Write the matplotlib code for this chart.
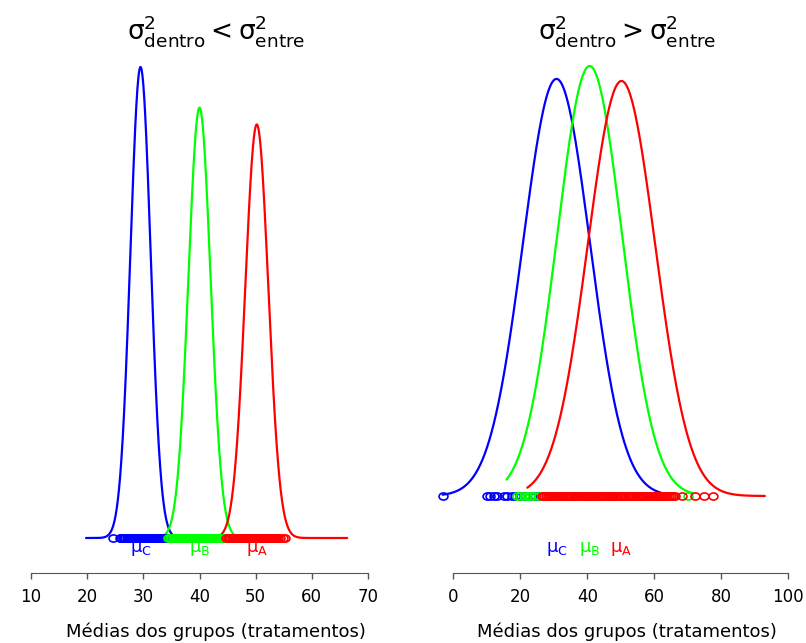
"""Two panels: rug of group means with normal curves, small vs large within-group variance."""
import matplotlib
matplotlib.use("Agg")
import matplotlib.pyplot as plt
import numpy as np
from matplotlib.markers import MarkerStyle
from matplotlib.path import Path
from matplotlib.transforms import Affine2D

plt.rcParams["font.family"] = ["DejaVu Sans"]
plt.rcParams["mathtext.default"] = "regular"

# groups in drawing order
group_labels = ["C", "B", "A"]
group_colors = ["#0000ff", "#00ff00", "#ff0000"]

# left panel: within variance < between variance
left_mean = [29.5, 40.0, 50.2]
left_sd = [1.8, 1.97, 2.05]
left_from = [19.8, 33.5, 43.5]
left_to = [36.0, 46.5, 66.3]
left_pts_c = [24.6, 25.8, 26.1, 26.3, 26.6, 26.8, 27.1, 27.2, 27.5, 27.7, 27.8, 28.1,
              28.2, 28.4, 28.7, 28.8, 29.0, 29.3, 29.4, 29.6, 29.9, 30.0, 30.2, 30.5,
              30.6, 30.8, 31.1, 31.2, 31.5, 31.6, 31.8, 32.1, 32.3, 32.4, 32.7, 32.9,
              33.1, 33.3, 33.6, 33.9, 34.2]
left_pts_b = [34.4, 34.7, 34.9, 35.2, 35.4, 35.6, 35.9, 36.1, 36.3, 36.5, 36.8, 37.0,
              37.2, 37.4, 37.7, 37.9, 38.1, 38.3, 38.6, 38.8, 39.0, 39.2, 39.5, 39.7,
              39.9, 40.1, 40.4, 40.6, 40.8, 41.0, 41.3, 41.5, 41.7, 41.9, 42.2, 42.4,
              42.6, 42.8, 43.1, 43.3, 43.5, 43.8, 44.0, 44.3, 44.6]
left_pts_a = [44.8, 45.1, 45.3, 45.5, 45.8, 46.0, 46.2, 46.4, 46.7, 46.9, 47.1, 47.3,
              47.6, 47.8, 48.0, 48.2, 48.5, 48.7, 48.9, 49.1, 49.4, 49.6, 49.8, 50.0,
              50.3, 50.5, 50.7, 50.9, 51.2, 51.4, 51.6, 51.8, 52.1, 52.3, 52.5, 52.7,
              53.0, 53.2, 53.4, 53.7, 53.9, 54.3, 54.9, 55.2]
left_ticks = [10, 20, 30, 40, 50, 60, 70]

# right panel: within variance > between variance
right_mean = [30.8, 40.7, 50.2]
right_sd = [10.0, 9.7, 10.05]
right_from = [-3.2, 15.9, 22.1]
right_to = [62.2, 71.6, 93.0]
right_pts_c = [-3.2, 10.0, 11.0, 12.0, 13.0, 15.0, 16.0, 17.5, 18.5, 20.0, 21.5, 23.0,
               24.5, 26.0, 28.0, 30.0, 32.0, 34.0, 36.0, 38.0, 40.0, 42.0, 44.0, 47.0,
               50.0, 53.0, 56.0, 59.0, 61.0, 62.2]
right_pts_b = [19.0, 20.0, 21.0, 22.0, 23.0, 24.0, 25.5, 26.5, 28.5, 30.5, 32.5, 34.5,
               36.5, 38.5, 40.5, 42.5, 44.5, 46.5, 48.5, 50.5, 52.5, 54.5, 57.0, 59.5,
               62.0, 65.0, 70.0]
right_pts_a = [26.5, 27.1, 27.6, 28.2, 28.8, 29.3, 29.9, 30.5, 31.0, 31.6, 32.2, 32.7,
               33.3, 33.9, 34.4, 35.0, 35.6, 36.1, 36.7, 37.3, 37.8, 38.4, 39.0, 39.5,
               40.1, 40.7, 41.2, 41.8, 42.4, 42.9, 43.5, 44.1, 44.6, 45.2, 45.8, 46.3,
               46.9, 47.5, 48.0, 48.6, 49.2, 49.7, 50.3, 50.9, 51.4, 52.0, 52.6, 53.1,
               53.7, 54.3, 54.8, 55.4, 56.0, 56.5, 57.1, 57.7, 58.2, 58.8, 59.4, 59.9,
               60.5, 61.1, 61.6, 62.2, 62.8, 63.3, 63.9, 64.5, 65.0, 65.6, 66.3, 68.2,
               72.1, 74.8, 77.4]
right_ticks = [0, 20, 40, 60, 80, 100]

W, H = 806, 643
fig = plt.figure(figsize=(W / 100, H / 100), dpi=100)

# slightly wide open circle, as in the stretched original
ring = MarkerStyle(Path.unit_circle().transformed(Affine2D().scale(1.25, 1.0)))


def dnorm(x, m, s):
    return np.exp(-0.5 * ((x - m) / s) ** 2) / (s * np.sqrt(2 * np.pi))


def panel(px0, px1, xlim, ticks, means, sds, x_from, x_to, pts, base_px, peak_px, title, cx):
    top_px, axis_px = 20, 573
    ax = fig.add_axes([px0 / W, 1 - axis_px / H, (px1 - px0) / W, (axis_px - top_px) / H])
    peak = max(dnorm(m, m, s) for m, s in zip(means, sds))
    base_frac = (axis_px - base_px) / (axis_px - top_px)
    peak_frac = (axis_px - peak_px) / (axis_px - top_px)
    span = peak / (peak_frac - base_frac)
    ax.set_ylim(-base_frac * span, (1 - base_frac) * span)
    ax.set_xlim(*xlim)

    for m, s, a, b, c in zip(means, sds, x_from, x_to, group_colors):
        xs = np.linspace(a, b, 400)
        ax.plot(xs, dnorm(xs, m, s), color=c, lw=1.6, solid_capstyle="round")
    for p, c in zip(pts, group_colors):
        ax.plot(p, np.zeros(len(p)), ls="none", marker=ring, ms=6.4,
                mfc="none", mec=c, mew=1.2, clip_on=False)
    for m, lab, c in zip(means, group_labels, group_colors):
        ax.text(m, 0.043, r"$\mu_{%s}$" % lab, color=c, fontsize=13,
                ha="center", va="center", transform=ax.get_xaxis_transform())

    for side in ("left", "right", "top"):
        ax.spines[side].set_visible(False)
    ax.spines["bottom"].set_bounds(ticks[0], ticks[-1])
    ax.spines["bottom"].set_color("#555555")
    ax.set_yticks([])
    ax.set_xticks(ticks)
    ax.tick_params(axis="x", direction="out", length=4, width=1, color="#555555",
                   labelsize=12, pad=7)

    fig.text(cx / W, 1 - 31 / H, title, fontsize=19, ha="center", va="center")
    fig.text(cx / W, 1 - 632 / H, "Médias dos grupos (tratamentos)",
             fontsize=13, ha="center", va="center")
    return ax


panel(2.9, 396.1, (5, 75), left_ticks, left_mean, left_sd, left_from, left_to,
      [left_pts_c, left_pts_b, left_pts_a], 538, 67,
      r"$\sigma^2_{dentro} < \sigma^2_{entre}$", 216)
panel(436.55, 805.05, (-5, 105), right_ticks, right_mean, right_sd, right_from, right_to,
      [right_pts_c, right_pts_b, right_pts_a], 496, 66,
      r"$\sigma^2_{dentro} > \sigma^2_{entre}$", 627)

fig.savefig("out.png", dpi=100)
